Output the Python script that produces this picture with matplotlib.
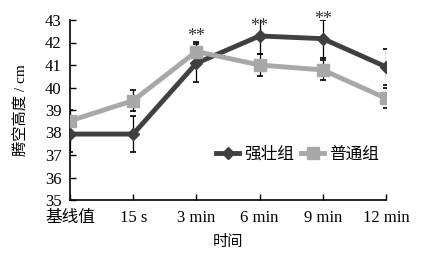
import matplotlib
matplotlib.use("Agg")
import matplotlib.pyplot as plt
import numpy as np

categories = ["基线值", "15 s", "3 min", "6 min", "9 min", "12 min"]
strong = [37.93, 37.93, 41.08, 42.29, 42.17, 40.92]
strong_err = [0.8, 0.8, 0.85, 0.8, 0.85, 0.8]
normal = [38.52, 39.42, 41.6, 41.0, 40.78, 39.52]
normal_err = [0.48, 0.47, 0.43, 0.5, 0.46, 0.45]
sig_labels = ["", "", "**", "**", "**", ""]
sig_y = [0, 0, 42.25, 42.7, 43.0, 0]
yticks = [35, 36, 37, 38, 39, 40, 41, 42, 43]

plt.rcParams['font.family'] = ['Liberation Serif', 'Noto Sans CJK SC']

fig = plt.figure(figsize=(4.28, 2.56), dpi=100)
ax = fig.add_axes([70/428, 56/256, 316/428, 180/256])
x = np.arange(len(categories))

dark = "#404040"
light = "#a8a8a8"
ax.errorbar(x, strong, yerr=strong_err, fmt='none', ecolor='black', elinewidth=0.9,
            capsize=2.5, capthick=1.2, zorder=2)
ax.errorbar(x, normal, yerr=normal_err, fmt='none', ecolor='black', elinewidth=0.9,
            capsize=2.5, capthick=1.2, zorder=2)
ax.plot(x, strong, color=dark, lw=3.5, marker='D', ms=6, label="强壮组", zorder=3)
ax.plot(x, normal, color=light, lw=3.5, marker='s', ms=8, label="普通组", zorder=3)

for xi, lab, yy in zip(x, sig_labels, sig_y):
    if lab:
        ax.text(xi, yy, lab, ha='center', va='center', fontsize=13, color='#333333')

ax.set_xlim(0, 5)
ax.set_ylim(35, 43)
ax.set_yticks(yticks)
ax.set_xticks(x)
ax.set_xticklabels(categories)
ax.tick_params(direction='in', length=4, labelsize=12, width=1)
ax.tick_params(axis='x', pad=7)
ax.tick_params(axis='y', pad=6)
for s in ['top', 'right']:
    ax.spines[s].set_visible(False)
for s in ['left', 'bottom']:
    ax.spines[s].set_linewidth(1.2)
ax.set_ylabel("腾空高度 / cm", fontsize=11, labelpad=12)
ax.set_xlabel("时间", fontsize=11, labelpad=7)
ax.legend(loc='center', bbox_to_anchor=(0.72, 0.25), ncol=2, frameon=False,
          fontsize=12, handlelength=1.4, handletextpad=0.3, columnspacing=0.4)

fig.savefig("out.png", dpi=100)
